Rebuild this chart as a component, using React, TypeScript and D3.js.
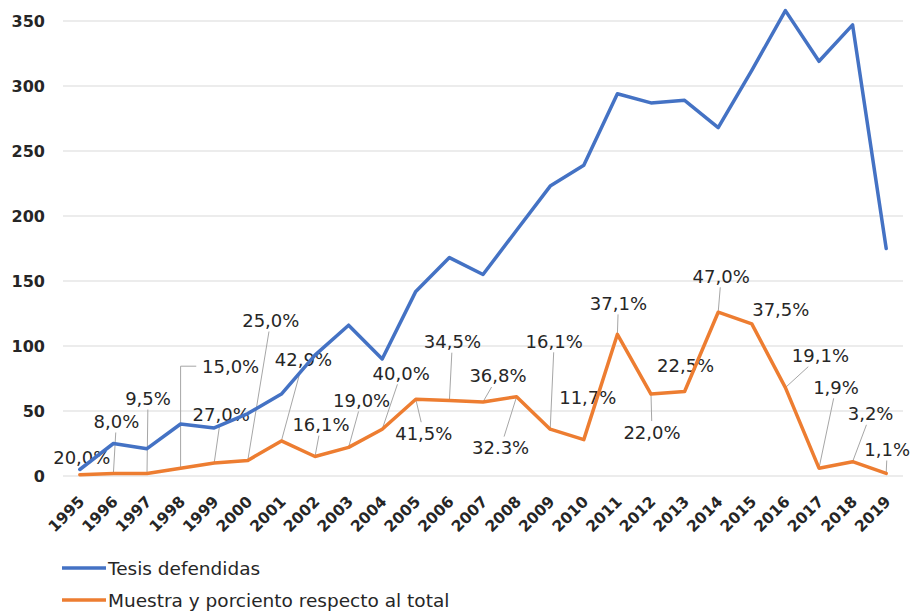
import * as d3 from 'd3';

const years = [
  '1995', '1996', '1997', '1998', '1999', '2000', '2001', '2002', '2003',
  '2004', '2005', '2006', '2007', '2008', '2009', '2010', '2011', '2012',
  '2013', '2014', '2015', '2016', '2017', '2018', '2019',
];

const tesis = [
  5, 25, 21, 40, 37, 48, 63, 93, 116, 90, 142, 168, 155, 189, 223, 239, 294,
  287, 289, 268, 312, 358, 319, 347, 175,
];

const muestra = [
  1, 2, 2, 6, 10, 12, 27, 15, 22, 36, 59, 58, 57, 61, 36, 28, 109, 63, 65,
  126, 117, 68, 6, 11, 2,
];

const pctLabels = [
  '20,0%', '8,0%', '9,5%', '15,0%', '27,0%', '25,0%', '42,9%', '16,1%',
  '19,0%', '40,0%', '41,5%', '34,5%', '36,8%', '32.3%', '16,1%', '11,7%',
  '37,1%', '22,0%', '22,5%', '47,0%', '37,5%', '19,1%', '1,9%', '3,2%', '1,1%',
];

const yTicks = [0, 50, 100, 150, 200, 250, 300, 350];

// where each % label sits relative to its orange point (hand placed, like Excel)
const labelOffsets: [number, number][] = [
  [2, -17], [3, -52], [1, -75], [50, -102], [7, -49], [23, -140], [22, -81],
  [6, -32], [13, -47], [19, -56], [8, 34], [3, -59], [15, -26], [-16, 51],
  [4, -88], [4, -42], [1, -31], [1, 38], [1, -26], [3, -36], [29, -14],
  [35, -32], [17, -81], [18, -48], [1, -24],
];
// '' = no leader, 'l' = straight leader, 'e' = elbow leader
const leaderKind = [
  '', 'l', 'l', 'e', 'l', 'l', 'l', 'l', 'l', 'l', 'l', 'l', 'l', 'l', 'l',
  '', 'l', 'l', '', 'l', '', 'l', 'l', 'l', 'l',
];

const W = 912;
const H = 611;
const BLUE = '#4472C4';
const ORANGE = '#ED7D31';
const TEXT = '#262626';
const FONT = '"DejaVu Sans", Verdana, sans-serif';

export default function App() {
  const x = d3.scalePoint<string>().domain(years).range([63, 903]).padding(0.5);
  const y = d3.scaleLinear().domain([0, 350]).range([476, 21]);

  const line = d3
    .line<number>()
    .x((_, i) => x(years[i]) as number)
    .y((d) => y(d));

  const labelFs = 18;

  const leaders = muestra.map((v, i) => {
    const kind = leaderKind[i];
    if (!kind) return null;
    const px = x(years[i]) as number;
    const py = y(v);
    const [dx, dy] = labelOffsets[i];
    const hw = (pctLabels[i].length * labelFs * 0.63) / 2 + 3;
    const hh = labelFs * 0.45 + 3;
    if (kind === 'e') {
      const side = dx > 0 ? 1 : -1;
      return `M${px},${py}V${py + dy}H${px + dx - side * (hw + 3)}`;
    }
    const tx = dx === 0 ? -Infinity : 1 - hw / Math.abs(dx);
    const ty = dy === 0 ? -Infinity : 1 - hh / Math.abs(dy);
    const t = Math.max(tx, ty);
    if (t <= 0) return null;
    return `M${px},${py}L${px + dx * t},${py + dy * t}`;
  });

  return (
    <svg
      width={W}
      height={H}
      viewBox={`0 0 ${W} ${H}`}
      style={{ position: 'absolute', left: 0, top: 0, background: '#fff' }}
      fontFamily={FONT}
    >
      {yTicks.map((t) => (
        <g key={t}>
          <line x1={63} x2={903} y1={y(t)} y2={y(t)} stroke="#d9d9d9" strokeWidth={1} />
          <text
            x={45}
            y={y(t)}
            textAnchor="end"
            dominantBaseline="central"
            fontSize={16}
            fontWeight="bold"
            fill={TEXT}
          >
            {t}
          </text>
        </g>
      ))}

      {years.map((yr) => (
        <text
          key={yr}
          transform={`translate(${(x(yr) as number) + 2},499) rotate(-45)`}
          textAnchor="end"
          dominantBaseline="central"
          fontSize={15.5}
          fontWeight="bold"
          fill={TEXT}
        >
          {yr}
        </text>
      ))}

      {leaders.map((d, i) =>
        d ? (
          <path key={'ld' + i} d={d} fill="none" stroke="#a6a6a6" strokeWidth={1} />
        ) : null
      )}

      {muestra.map((v, i) => (
        <text
          key={'lb' + i}
          x={(x(years[i]) as number) + labelOffsets[i][0]}
          y={y(v) + labelOffsets[i][1]}
          textAnchor="middle"
          dominantBaseline="central"
          fontSize={labelFs}
          fill={TEXT}
        >
          {pctLabels[i]}
        </text>
      ))}

      <path
        d={line(muestra) ?? ''}
        fill="none"
        stroke={ORANGE}
        strokeWidth={3.5}
        strokeLinejoin="round"
        strokeLinecap="round"
      />
      <path
        d={line(tesis) ?? ''}
        fill="none"
        stroke={BLUE}
        strokeWidth={3.5}
        strokeLinejoin="round"
        strokeLinecap="round"
      />

      {/* legend */}
      <line x1={62} x2={106} y1={568} y2={568} stroke={BLUE} strokeWidth={3.5} />
      <text x={108} y={568} dominantBaseline="central" fontSize={18.5} fill={TEXT}>
        Tesis defendidas
      </text>
      <line x1={62} x2={106} y1={600} y2={600} stroke={ORANGE} strokeWidth={3.5} />
      <text x={108} y={600} dominantBaseline="central" fontSize={18.5} fill={TEXT}>
        Muestra y porciento respecto al total
      </text>
    </svg>
  );
}
